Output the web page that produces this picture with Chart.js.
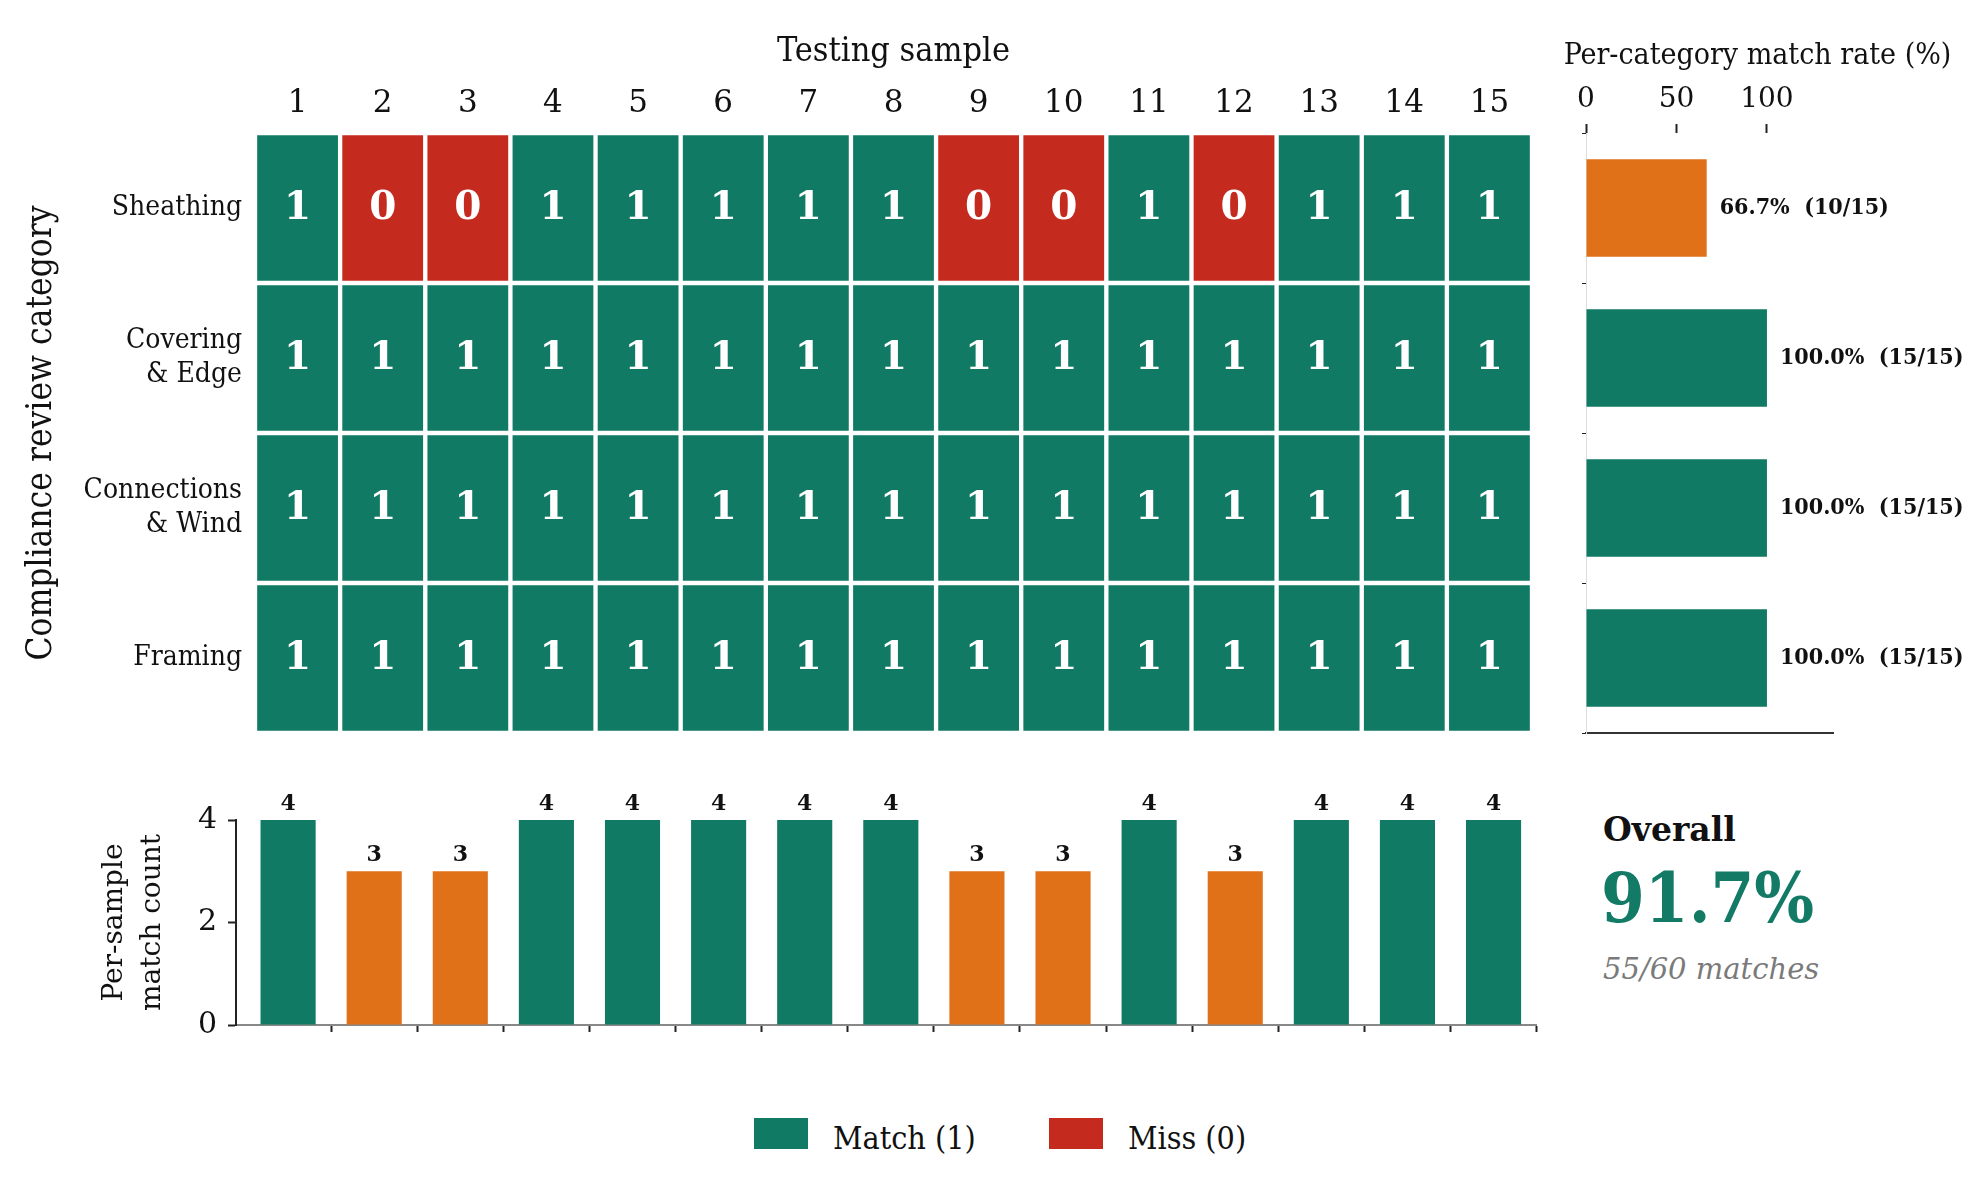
<!DOCTYPE html>
<html>
<head>
<meta charset="utf-8">
<script src="https://cdn.jsdelivr.net/npm/chart.js@4.4.1/dist/chart.umd.min.js"></script>
<style>
  html, body { margin: 0; padding: 0; background: #fff; }
  body { width: 1979px; height: 1199px; position: relative; overflow: hidden; }
  canvas { position: absolute; }
  #heatmap { left: 0; top: 0; }
  #rates { left: 1536px; top: 0; }
  #counts { left: 0; top: 760px; }
  .txt { position: absolute; white-space: nowrap; line-height: 1; }
  .swatch { position: absolute; width: 54px; height: 31px; }
</style>
</head>
<body>
<canvas id="heatmap" width="1560" height="760"></canvas>
<canvas id="rates" width="443" height="760"></canvas>
<canvas id="counts" width="1560" height="320"></canvas>

<div class="txt" id="overallTitle" style="left:1603px; top:810px; font: bold 33px 'DejaVu Serif', serif; color:#111;"></div>
<div class="txt" id="overallRate" style="left:1601px; top:856px; font: bold 70px 'DejaVu Serif Condensed', 'DejaVu Serif', serif; color:#137a66;"></div>
<div class="txt" id="overallCount" style="left:1603px; top:952px; font: italic 29px 'DejaVu Serif', serif; color:#7a7a7a;"></div>

<div class="swatch" style="left:754px; top:1118px; background:#117a65;"></div>
<div class="txt" style="left:833px; top:1119px; font: 32px 'DejaVu Serif Condensed', 'DejaVu Serif', serif; color:#111;">Match (1)</div>
<div class="swatch" style="left:1049px; top:1118px; background:#c52a1f;"></div>
<div class="txt" style="left:1128px; top:1119px; font: 32px 'DejaVu Serif Condensed', 'DejaVu Serif', serif; color:#111;">Miss (0)</div>

<script>
const samples = ['1', '2', '3', '4', '5', '6', '7', '8', '9', '10', '11', '12', '13', '14', '15'];
const categories = ['Sheathing', 'Covering & Edge', 'Connections & Wind', 'Framing'];
const categoryLabels = [['Sheathing'], ['Covering', '& Edge'], ['Connections', '& Wind'], ['Framing']];

// match (1) / miss (0) per testing sample
const sheathing       = [1, 0, 0, 1, 1, 1, 1, 1, 0, 0, 1, 0, 1, 1, 1];
const coveringEdge    = [1, 1, 1, 1, 1, 1, 1, 1, 1, 1, 1, 1, 1, 1, 1];
const connectionsWind = [1, 1, 1, 1, 1, 1, 1, 1, 1, 1, 1, 1, 1, 1, 1];
const framing         = [1, 1, 1, 1, 1, 1, 1, 1, 1, 1, 1, 1, 1, 1, 1];

const matchRate = [66.7, 100.0, 100.0, 100.0];
const matchCount = [10, 15, 15, 15];
const samplesPerCategory = 15;
const rateTicks = [0, 50, 100];

const perSampleCount = [4, 3, 3, 4, 4, 4, 4, 4, 3, 3, 4, 3, 4, 4, 4];
const countTicks = [0, 2, 4];

const overallRate = 91.7;
const overallMatches = 55;
const overallTotal = 60;

const TEAL = '#117a65';
const RED = '#c52a1f';
const ORANGE = '#e07119';
const INK = '#111';
const SERIF = "'DejaVu Serif', serif";
const COND = "'DejaVu Serif Condensed', 'DejaVu Serif', serif";

const rows = [sheathing, coveringEdge, connectionsWind, framing];

const cellLabels = {
    id: 'cellLabels',
    afterDatasetsDraw(chart) {
        const ctx = chart.ctx;
        ctx.save();
        ctx.font = `bold 39px ${SERIF}`;
        ctx.fillStyle = '#fff';
        ctx.textAlign = 'center';
        ctx.textBaseline = 'middle';
        rows.forEach((row, i) => {
            chart.getDatasetMeta(i).data.forEach((cell, j) => {
                const p = cell.getCenterPoint();
                ctx.fillText(String(row[j]), p.x, p.y + 1);
            });
        });
        ctx.restore();
    }
};

new Chart(document.getElementById('heatmap'), {
    type: 'bar',
    data: {
        labels: samples,
        datasets: rows.map((row, i) => ({
            label: categories[i],
            data: row.map(() => 1),
            backgroundColor: row.map(v => v ? TEAL : RED),
            borderColor: '#fff',
            borderWidth: 2.5,
            borderSkipped: false,
            barPercentage: 1,
            categoryPercentage: 1
        }))
    },
    options: {
        responsive: false,
        animation: false,
        layout: { padding: { left: 18, right: 28, top: 20, bottom: 27 } },
        plugins: { legend: { display: false }, tooltip: { enabled: false } },
        scales: {
            x: {
                position: 'top',
                stacked: true,
                grid: { display: false },
                border: { display: false },
                ticks: { color: INK, font: { family: SERIF, size: 31 }, padding: 2, maxRotation: 0, autoSkip: false },
                title: { display: true, text: 'Testing sample', color: INK, font: { family: COND, size: 34 }, padding: { top: 12, bottom: 0 } },
                afterFit: s => { s.height = 113; }
            },
            y: {
                stacked: true,
                reverse: true,
                min: 0,
                max: 4,
                grid: { display: false },
                border: { display: false },
                afterBuildTicks: s => { s.ticks = categories.map((c, i) => ({ value: i + 0.5 })); },
                ticks: {
                    callback: v => categoryLabels[Math.floor(v)],
                    color: INK,
                    font: { family: COND, size: 28, lineHeight: 1.22 },
                    padding: 5
                },
                title: { display: true, text: 'Compliance review category', color: INK, font: { family: COND, size: 35 }, padding: { top: 3 } },
                afterFit: s => { s.width = 237; }
            }
        }
    },
    plugins: [cellLabels]
});

const rateLabels = {
    id: 'rateLabels',
    afterDatasetsDraw(chart) {
        const ctx = chart.ctx;
        ctx.save();
        ctx.font = `bold 23px ${COND}`;
        ctx.fillStyle = INK;
        ctx.textAlign = 'left';
        ctx.textBaseline = 'middle';
        chart.getDatasetMeta(0).data.forEach((bar, i) => {
            ctx.fillText(`${matchRate[i].toFixed(1)}%  (${matchCount[i]}/${samplesPerCategory})`, bar.x + 13, bar.y);
        });
        ctx.restore();
    }
};

new Chart(document.getElementById('rates'), {
    type: 'bar',
    data: {
        labels: categories,
        datasets: [{
            data: matchRate,
            backgroundColor: matchRate.map(r => r < 100 ? ORANGE : TEAL),
            borderWidth: 0,
            barPercentage: 0.65,
            categoryPercentage: 1
        }]
    },
    options: {
        indexAxis: 'y',
        responsive: false,
        animation: false,
        layout: { padding: { left: 0, right: 0, top: 0, bottom: 27 } },
        plugins: {
            legend: { display: false },
            tooltip: { enabled: false },
            title: {
                display: true,
                text: 'Per-category match rate (%)',
                color: INK,
                font: { family: COND, size: 30, weight: 'normal', lineHeight: 1.2 },
                padding: { top: 38, bottom: 0 }
            }
        },
        scales: {
            x: {
                position: 'top',
                min: 0,
                max: 136.5,
                afterBuildTicks: s => { s.ticks = rateTicks.map(v => ({ value: v })); },
                grid: { display: true, drawOnChartArea: false, drawTicks: true, tickLength: 9, tickColor: '#222', tickWidth: 2 },
                border: { display: false },
                ticks: { color: INK, font: { family: SERIF, size: 28 }, padding: 7 },
                afterFit: s => { s.height = 59; }
            },
            x2: {
                type: 'linear',
                position: 'bottom',
                min: 0,
                max: 136.5,
                grid: { display: false },
                ticks: { display: false },
                border: { display: true, color: '#333', width: 2 },
                afterFit: s => { s.height = 0; }
            },
            y: {
                grid: { display: true, drawOnChartArea: false, tickLength: 4, tickColor: '#222', offset: true },
                border: { display: true, color: '#dddddd', width: 1 },
                ticks: { display: false },
                afterFit: s => { s.width = 50; }
            },
            yRight: {
                type: 'category',
                position: 'right',
                grid: { display: false },
                border: { display: false },
                ticks: { display: false },
                afterFit: s => { s.width = 146; }
            }
        }
    },
    plugins: [rateLabels]
});

const countLabels = {
    id: 'countLabels',
    afterDatasetsDraw(chart) {
        const ctx = chart.ctx;
        ctx.save();
        ctx.font = `bold 22px ${SERIF}`;
        ctx.fillStyle = INK;
        ctx.textAlign = 'center';
        ctx.textBaseline = 'middle';
        chart.getDatasetMeta(0).data.forEach((bar, i) => {
            ctx.fillText(String(perSampleCount[i]), bar.x, bar.y - 16);
        });
        ctx.restore();
    }
};

new Chart(document.getElementById('counts'), {
    type: 'bar',
    data: {
        datasets: [{
            data: samples.map((s, i) => ({ x: Number(s), y: perSampleCount[i] })),
            backgroundColor: perSampleCount.map(c => c === categories.length ? TEAL : ORANGE),
            borderWidth: 0,
            barPercentage: 0.64,
            categoryPercentage: 1
        }]
    },
    options: {
        responsive: false,
        animation: false,
        layout: { padding: { left: 90, right: 23.4, top: 60, bottom: 15 } },
        plugins: { legend: { display: false }, tooltip: { enabled: false } },
        scales: {
            x: {
                type: 'linear',
                offset: false,
                min: 0.395,
                max: 15.5,
                afterBuildTicks: s => { s.ticks = samples.map(v => ({ value: Number(v) + 0.5 })); },
                ticks: { callback: () => '' },
                grid: { display: true, offset: false, drawOnChartArea: false, tickLength: 7, tickColor: '#222', tickWidth: 2 },
                border: { display: true, color: '#888', width: 2 },
                afterFit: s => { s.height = 40; }
            },
            y: {
                min: 0,
                max: 4,
                afterBuildTicks: s => { s.ticks = countTicks.map(v => ({ value: v })); },
                ticks: { color: INK, font: { family: SERIF, size: 30 }, padding: 11 },
                grid: { display: true, drawOnChartArea: false, tickLength: 8, tickColor: '#222', tickWidth: 2 },
                border: { display: true, color: '#222', width: 2 },
                title: { display: true, text: ['Per-sample', 'match count'], color: INK, font: { family: SERIF, size: 28, lineHeight: 1.35 }, padding: { top: 6 } },
                afterFit: s => { s.width = 146; }
            }
        }
    },
    plugins: [countLabels]
});

document.getElementById('overallTitle').textContent = 'Overall';
document.getElementById('overallRate').textContent = `${overallRate.toFixed(1)}%`;
document.getElementById('overallCount').textContent = `${overallMatches}/${overallTotal} matches`;
</script>
</body>
</html>
